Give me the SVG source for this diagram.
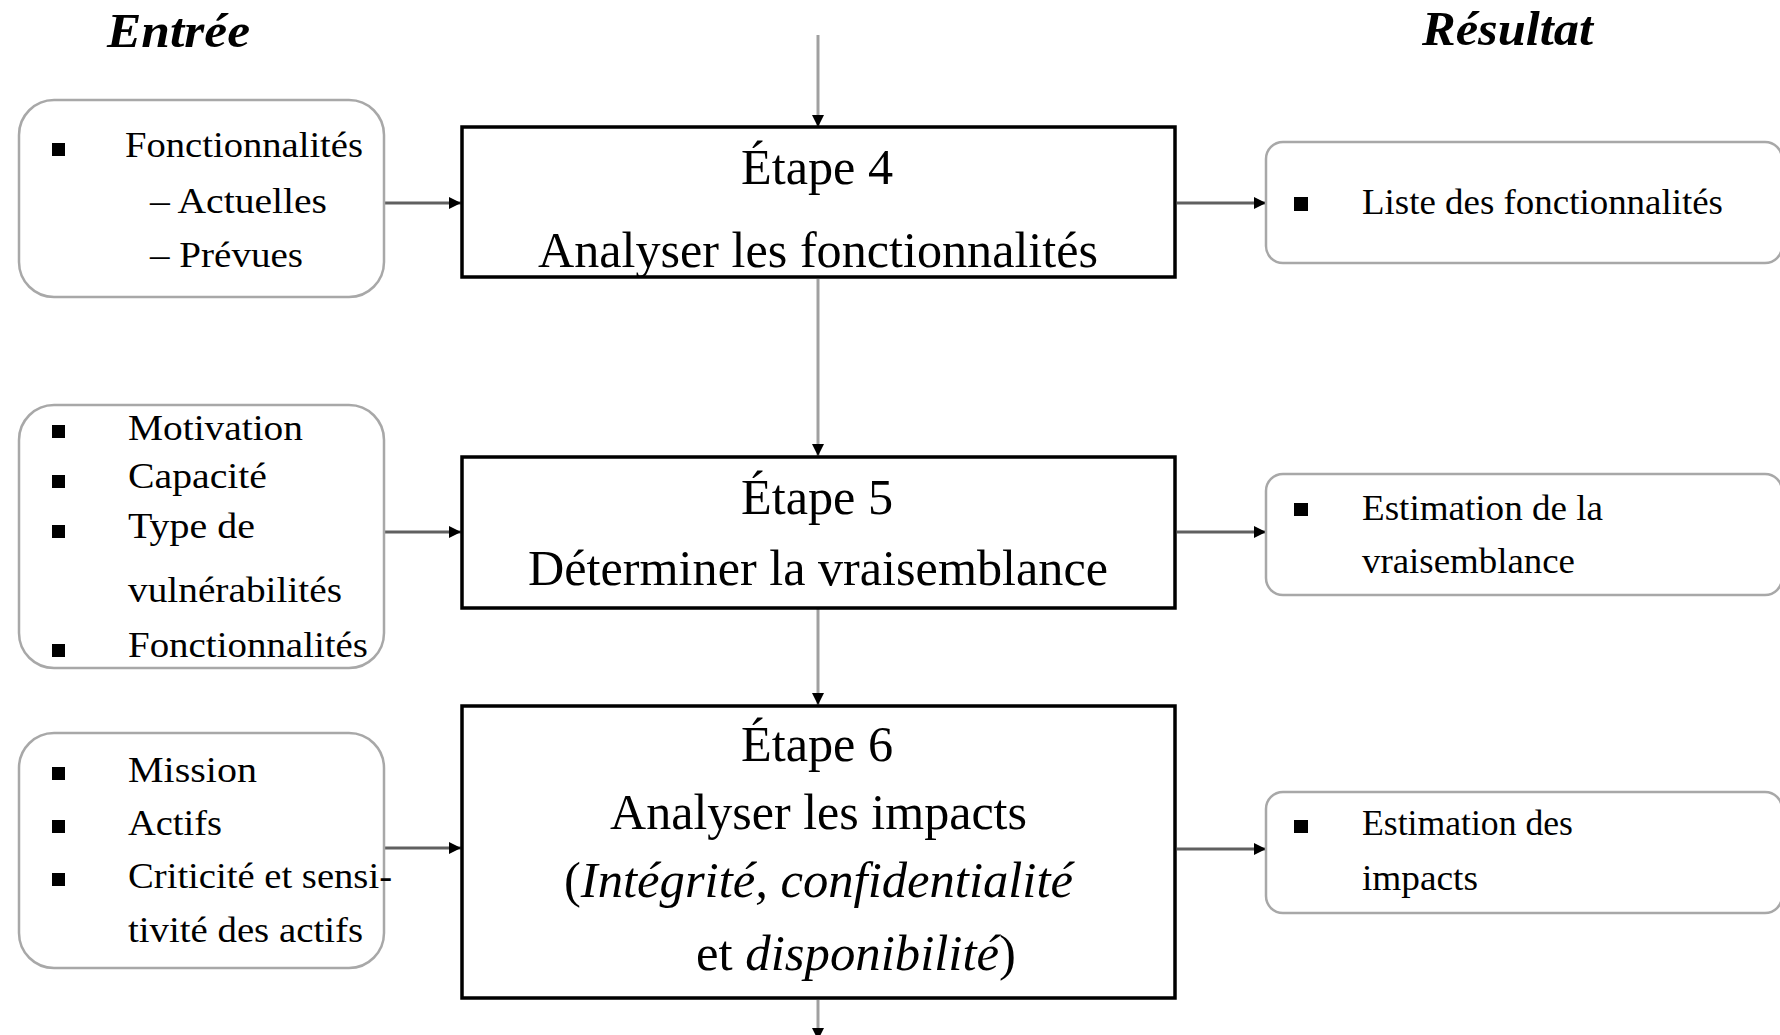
<svg xmlns="http://www.w3.org/2000/svg" width="1780" height="1035" viewBox="0 0 1780 1035">
<style>
  .hdr { font-family: "Liberation Serif", "Times New Roman", serif; font-size: 48px; font-weight: bold; font-style: italic; fill: #000; }
  .io { fill: #fff; stroke: #a8a8a8; stroke-width: 2.5; }
  .step { fill: #fff; stroke: #000; stroke-width: 3.5; }
  .t { font-family: "Liberation Serif", "Times New Roman", serif; font-size: 36px; fill: #000; }
  .s { font-family: "Liberation Serif", "Times New Roman", serif; font-size: 50px; fill: #000; }
  .it { font-style: italic; }
  .bul { fill: #000; }
  .h { stroke: #606060; stroke-width: 3; fill: none; }
  .v { stroke: #a0a0a0; stroke-width: 3; fill: none; }
</style>
<defs>
  <marker id="ah" markerUnits="userSpaceOnUse" markerWidth="13" markerHeight="12" refX="12" refY="6" orient="auto">
    <path d="M0,0 L12,6 L0,12 z" fill="#000"/>
  </marker>
</defs>
<rect width="1780" height="1035" fill="#fff"/>

<g id="headers">
  <text class="hdr" x="107" y="47" textLength="143" lengthAdjust="spacingAndGlyphs">Entrée</text>
  <text class="hdr" x="1422" y="45" textLength="171" lengthAdjust="spacingAndGlyphs">Résultat</text>
</g>

<g id="connectors">
  <line class="v" x1="818" y1="35" x2="818" y2="127" marker-end="url(#ah)"/>
  <line class="v" x1="818" y1="279" x2="818" y2="456" marker-end="url(#ah)"/>
  <line class="v" x1="818" y1="609" x2="818" y2="705" marker-end="url(#ah)"/>
  <line class="v" x1="818" y1="1000" x2="818" y2="1040" marker-end="url(#ah)"/>
  <line class="h" x1="384" y1="203" x2="461" y2="203" marker-end="url(#ah)"/>
  <line class="h" x1="384" y1="532" x2="461" y2="532" marker-end="url(#ah)"/>
  <line class="h" x1="384" y1="848" x2="461" y2="848" marker-end="url(#ah)"/>
  <line class="h" x1="1177" y1="203" x2="1266" y2="203" marker-end="url(#ah)"/>
  <line class="h" x1="1177" y1="532" x2="1266" y2="532" marker-end="url(#ah)"/>
  <line class="h" x1="1177" y1="849" x2="1266" y2="849" marker-end="url(#ah)"/>
</g>

<g id="in1">
  <rect class="io" x="19" y="100" width="365" height="197" rx="35"/>
  <rect class="bul" x="52" y="143" width="13" height="13"/>
  <text class="t" x="125" y="157" textLength="238" lengthAdjust="spacingAndGlyphs">Fonctionnalités</text>
  <text class="t" x="150" y="213" textLength="177" lengthAdjust="spacingAndGlyphs">– Actuelles</text>
  <text class="t" x="150" y="267" textLength="153" lengthAdjust="spacingAndGlyphs">– Prévues</text>
</g>

<g id="in2">
  <rect class="io" x="19" y="405" width="365" height="263" rx="35"/>
  <rect class="bul" x="52" y="425" width="13" height="13"/>
  <rect class="bul" x="52" y="475" width="13" height="13"/>
  <rect class="bul" x="52" y="525" width="13" height="13"/>
  <rect class="bul" x="52" y="644" width="13" height="13"/>
  <text class="t" x="128" y="440" textLength="175" lengthAdjust="spacingAndGlyphs">Motivation</text>
  <text class="t" x="128" y="488" textLength="139" lengthAdjust="spacingAndGlyphs">Capacité</text>
  <text class="t" x="128" y="538" textLength="127" lengthAdjust="spacingAndGlyphs">Type de</text>
  <text class="t" x="128" y="602" textLength="214" lengthAdjust="spacingAndGlyphs">vulnérabilités</text>
  <text class="t" x="128" y="657" textLength="240" lengthAdjust="spacingAndGlyphs">Fonctionnalités</text>
</g>

<g id="in3">
  <rect class="io" x="19" y="733" width="365" height="235" rx="35"/>
  <rect class="bul" x="52" y="767" width="13" height="13"/>
  <rect class="bul" x="52" y="820" width="13" height="13"/>
  <rect class="bul" x="52" y="873" width="13" height="13"/>
  <text class="t" x="128" y="782" textLength="129" lengthAdjust="spacingAndGlyphs">Mission</text>
  <text class="t" x="128" y="835" textLength="94" lengthAdjust="spacingAndGlyphs">Actifs</text>
  <text class="t" x="128" y="888" textLength="264" lengthAdjust="spacingAndGlyphs">Criticité et sensi-</text>
  <text class="t" x="128" y="942" textLength="235" lengthAdjust="spacingAndGlyphs">tivité des actifs</text>
</g>

<g id="step4">
  <rect class="step" x="462" y="127" width="713" height="150"/>
  <text class="s" x="741" y="184" textLength="152" lengthAdjust="spacingAndGlyphs">Étape 4</text>
  <text class="s" x="538" y="267" textLength="560" lengthAdjust="spacingAndGlyphs">Analyser les fonctionnalités</text>
</g>

<g id="step5">
  <rect class="step" x="462" y="457" width="713" height="151"/>
  <text class="s" x="741" y="514" textLength="152" lengthAdjust="spacingAndGlyphs">Étape 5</text>
  <text class="s" x="528" y="585" textLength="580" lengthAdjust="spacingAndGlyphs">Déterminer la vraisemblance</text>
</g>

<g id="step6">
  <rect class="step" x="462" y="706" width="713" height="292"/>
  <text class="s" x="741" y="761" textLength="152" lengthAdjust="spacingAndGlyphs">Étape 6</text>
  <text class="s" x="610" y="829" textLength="417" lengthAdjust="spacingAndGlyphs">Analyser les impacts</text>
  <text class="s" x="564" y="897" textLength="509" lengthAdjust="spacingAndGlyphs">(<tspan class="it">Intégrité, confidentialité</tspan></text>
  <text class="s" x="696" y="970" textLength="320" lengthAdjust="spacingAndGlyphs">et <tspan class="it">disponibilité</tspan>)</text>
</g>

<g id="out1">
  <rect class="io" x="1266" y="142" width="516" height="121" rx="17"/>
  <rect class="bul" x="1294" y="197" width="14" height="14"/>
  <text class="t" x="1362" y="214" textLength="361" lengthAdjust="spacingAndGlyphs">Liste des fonctionnalités</text>
</g>

<g id="out2">
  <rect class="io" x="1266" y="474" width="516" height="121" rx="17"/>
  <rect class="bul" x="1294" y="503" width="14" height="13"/>
  <text class="t" x="1362" y="520" textLength="241" lengthAdjust="spacingAndGlyphs">Estimation de la</text>
  <text class="t" x="1362" y="573" textLength="213" lengthAdjust="spacingAndGlyphs">vraisemblance</text>
</g>

<g id="out3">
  <rect class="io" x="1266" y="792" width="516" height="121" rx="17"/>
  <rect class="bul" x="1294" y="820" width="14" height="13"/>
  <text class="t" x="1362" y="835" textLength="211" lengthAdjust="spacingAndGlyphs">Estimation des</text>
  <text class="t" x="1362" y="890" textLength="116" lengthAdjust="spacingAndGlyphs">impacts</text>
</g>
</svg>
